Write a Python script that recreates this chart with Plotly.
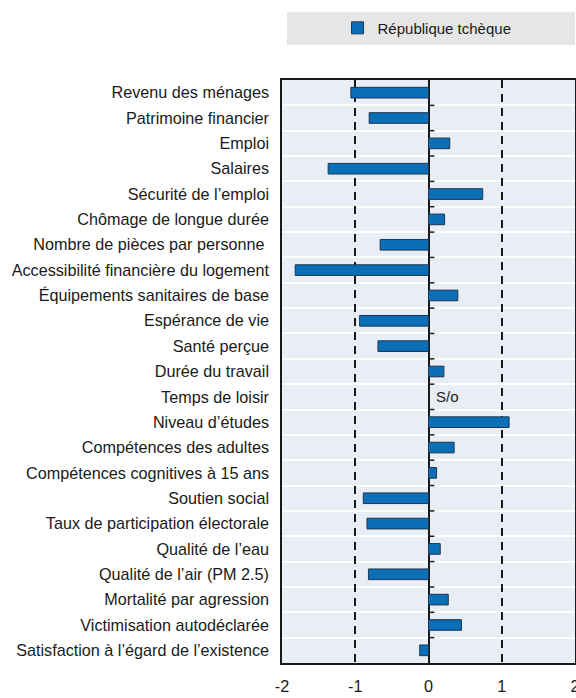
import plotly.graph_objects as go

categories = [
    "Revenu des ménages", "Patrimoine financier", "Emploi", "Salaires",
    "Sécurité de l’emploi", "Chômage de longue durée", "Nombre de pièces par personne ",
    "Accessibilité financière du logement", "Équipements sanitaires de base",
    "Espérance de vie", "Santé perçue", "Durée du travail", "Temps de loisir",
    "Niveau d’études", "Compétences des adultes", "Compétences cognitives à 15 ans",
    "Soutien social", "Taux de participation électorale", "Qualité de l’eau",
    "Qualité de l’air (PM 2.5)", "Mortalité par agression", "Victimisation autodéclarée",
    "Satisfaction à l’égard de l’existence",
]
values = [
    -1.06, -0.81, 0.29, -1.37, 0.74, 0.22, -0.66, -1.82, 0.40, -0.94, -0.69, 0.21,
    None, 1.10, 0.35, 0.11, -0.89, -0.84, 0.16, -0.82, 0.27, 0.45, -0.12,
]
series_name = "République tchèque"
missing_label = "S/o"
x_ticks = [-2, -1, 0, 1, 2]
x_ticktext = ["-2", "-1", "0", "1", "2"]

n = len(categories)
ypos = list(range(n))

fig = go.Figure()
fig.add_trace(go.Bar(
    y=ypos, x=values, orientation="h", name=series_name, width=0.42,
    marker=dict(color="#0a6fb6", line=dict(color="#1e3550", width=1)),
    showlegend=True,
))

for i, v in enumerate(values):
    if v is None:
        fig.add_annotation(x=0.08, y=i, text=missing_label, showarrow=False,
                           xanchor="left", yanchor="middle",
                           font=dict(size=15, color="#222"))

shapes = []
for i in range(n - 1):
    shapes.append(dict(type="line", xref="x", yref="y", x0=0, x1=0.08,
                       y0=i + 0.5, y1=i + 0.5, line=dict(color="#1a1a1a", width=1.5),
                       layer="above"))
shapes.append(dict(type="rect", xref="paper", yref="paper", x0=0.017, x1=1.0,
                   y0=1.060, y1=1.117, fillcolor="#e6e6e6", line=dict(width=0),
                   layer="below"))

fig.update_layout(
    width=576, height=698,
    margin=dict(l=282, r=1, t=80, b=35, autoexpand=False),
    paper_bgcolor="white", plot_bgcolor="#e8edf6",
    font=dict(family="Liberation Sans, Arial, sans-serif", size=16.2, color="#1a1a1a"),
    showlegend=True,
    legend=dict(orientation="h", x=0.495, xanchor="center", y=1.089, yanchor="middle",
                bgcolor="rgba(0,0,0,0)", font=dict(size=15), itemwidth=30),
    shapes=shapes,
)
fig.update_xaxes(
    range=[-2, 2], tickvals=x_ticks, ticktext=x_ticktext, automargin=False,
    ticklabeloverflow="allow",
    showgrid=True, gridcolor="#1a1a1a", griddash="8px,6px", gridwidth=2,
    zeroline=True, zerolinecolor="#1a1a1a", zerolinewidth=2,
    showline=True, linecolor="#1a1a1a", linewidth=1.5, mirror=True,
    ticks="", ticklabelstandoff=8, tickfont=dict(size=16.2),
)
fig.update_yaxes(
    range=[n - 0.5, -0.5], tickvals=ypos, ticktext=categories, automargin=False,
    showgrid=False, zeroline=False,
    showline=True, linecolor="#1a1a1a", linewidth=1.5, mirror=True,
    ticks="", ticklabelstandoff=8, tickfont=dict(size=16.2),
    minor=dict(tick0=0.5, dtick=1, showgrid=True, gridcolor="white", gridwidth=2, ticks=""),
)

fig.write_html(
    "out.html",
    config={"displayModeBar": False},
    post_script="document.body.style.margin='0';document.body.style.overflow='hidden';",
)
